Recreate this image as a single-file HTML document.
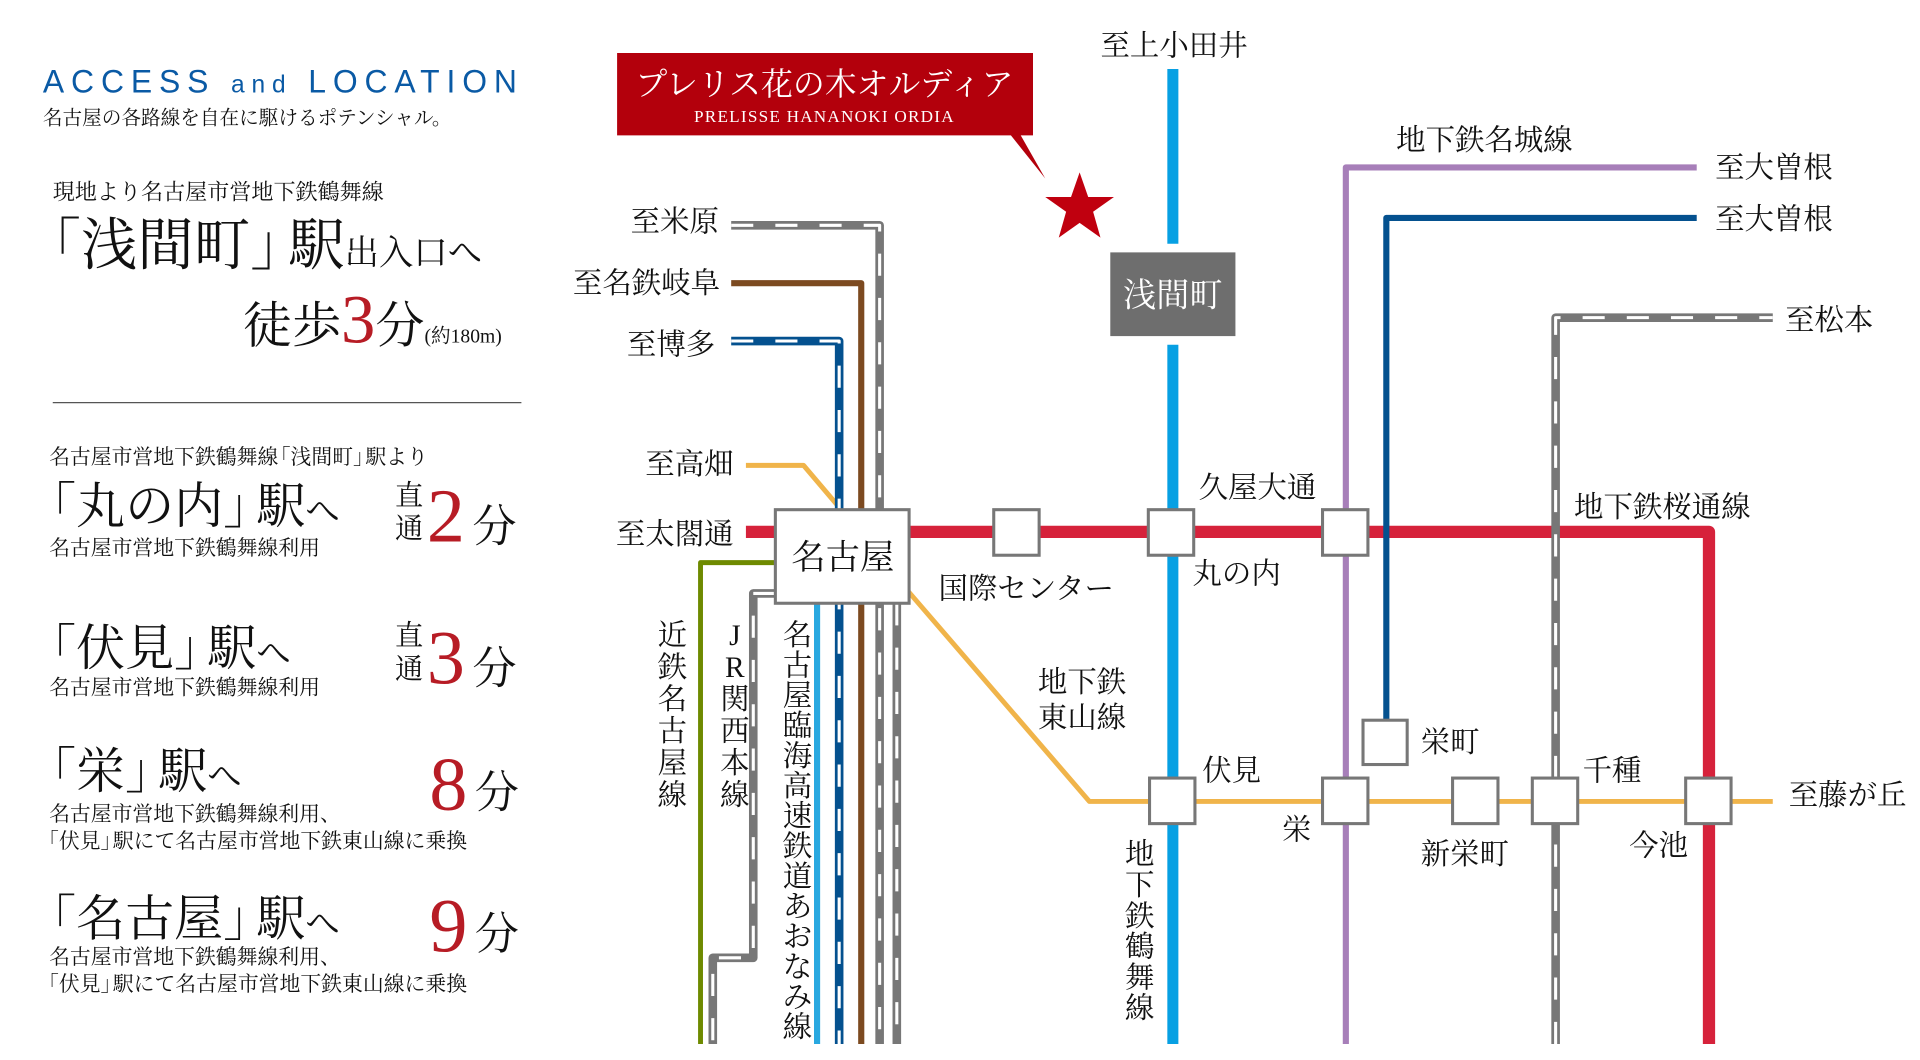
<!DOCTYPE html>
<html><head><meta charset="utf-8"><style>
html,body{margin:0;padding:0;background:#fff;}
svg{display:block;}
text{font-family:"Liberation Serif","Noto Serif CJK SC","Noto Serif CJK JP",serif;fill:#111;}
.s{font-family:"Liberation Sans","Noto Sans CJK JP",sans-serif;}
.r{fill:#b71c25;}
</style></head><body>
<svg width="1920" height="1060" viewBox="0 0 1565 861" preserveAspectRatio="none" xmlns="http://www.w3.org/2000/svg">
<rect width="1565" height="861" fill="#fff"/>
<!-- LEFT PANEL -->
<text class="s" x="35" y="75" font-size="26" style="fill:#0a5aa5" letter-spacing="5.6">ACCESS <tspan font-size="20">and</tspan> LOCATION</text>
<text x="35" y="101" font-size="16">名古屋の各路線を自在に駆けるポテンシャル。</text>
<text x="43" y="162" font-size="18">現地より名古屋市営地下鉄鶴舞線</text>
<text x="20" y="215" font-size="46">「浅間町」<tspan dx="-15">駅</tspan><tspan font-size="28">出入口へ</tspan></text>
<text x="198" y="278" font-size="40">徒歩<tspan class="r" font-size="56">3</tspan>分<tspan font-size="16">(約180m)</tspan></text>
<line x1="43" y1="327" x2="425" y2="327" stroke="#555" stroke-width="1"/>
<text x="40" y="377" font-size="17">名古屋市営地下鉄鶴舞線<tspan dx="-7">「</tspan>浅間町」<tspan dx="-7">駅より</tspan></text>

<text x="22" y="425" font-size="40">「丸の内」<tspan dx="-13">駅</tspan><tspan font-size="28">へ</tspan></text>
<text x="40" y="451" font-size="17">名古屋市営地下鉄鶴舞線利用</text>
<text x="322" y="410" font-size="23">直</text><text x="322" y="437" font-size="23">通</text>
<text class="r" x="348" y="440" font-size="62">2</text><text x="385" y="440" font-size="36">分</text>

<text x="22" y="540" font-size="40">「伏見」<tspan dx="-13">駅</tspan><tspan font-size="28">へ</tspan></text>
<text x="40" y="564" font-size="17">名古屋市営地下鉄鶴舞線利用</text>
<text x="322" y="524" font-size="23">直</text><text x="322" y="551" font-size="23">通</text>
<text class="r" x="348" y="555" font-size="62">3</text><text x="385" y="555" font-size="36">分</text>

<text x="22" y="640" font-size="40">「栄」<tspan dx="-13">駅</tspan><tspan font-size="28">へ</tspan></text>
<text x="40" y="667" font-size="17">名古屋市営地下鉄鶴舞線利用、</text>
<text x="31" y="689" font-size="17">「伏見」<tspan dx="-7">駅にて名古屋市営地下鉄東山線に乗換</tspan></text>
<text class="r" x="350" y="658" font-size="62">8</text><text x="387" y="656" font-size="36">分</text>

<text x="22" y="760" font-size="40">「名古屋」<tspan dx="-13">駅</tspan><tspan font-size="28">へ</tspan></text>
<text x="40" y="783" font-size="17">名古屋市営地下鉄鶴舞線利用、</text>
<text x="31" y="805" font-size="17">「伏見」<tspan dx="-7">駅にて名古屋市営地下鉄東山線に乗換</tspan></text>
<text class="r" x="350" y="773" font-size="62">9</text><text x="387" y="771" font-size="36">分</text>

<!-- MAP LINES -->
<g fill="none" stroke-linejoin="round">
<path d="M608 432 H1393 V848" stroke="#d6223b" stroke-width="10"/>
<line x1="956" y1="56" x2="956" y2="198" stroke="#07a0e3" stroke-width="9"/>
<line x1="956" y1="280" x2="956" y2="848" stroke="#07a0e3" stroke-width="9"/>
<path d="M740 480 L888 651 H1445" stroke="#f0b44a" stroke-width="4"/>
<path d="M608 378 H655 L684 412" stroke="#f0b44a" stroke-width="4"/>
<path d="M1097 848 V136 H1383" stroke="#a77fb9" stroke-width="5"/>
<path d="M1130 590 V177 H1383" stroke="#04518f" stroke-width="5"/>
<path d="M1268 848 V258 H1445" stroke="#777" stroke-width="7"/>
<path d="M1268 848 V258 H1445" stroke="#fff" stroke-width="2.5" stroke-dasharray="18 18"/>
<path d="M596 183 H717 V848" stroke="#777" stroke-width="7"/>
<path d="M596 183 H717 V848" stroke="#fff" stroke-width="2.5" stroke-dasharray="18 18"/>
<path d="M596 230 H702 V848" stroke="#7c4a20" stroke-width="5"/>
<path d="M596 277 H684 V848" stroke="#04518f" stroke-width="7"/>
<path d="M596 277 H684 V848" stroke="#fff" stroke-width="2.5" stroke-dasharray="18 18"/>
<line x1="666" y1="490" x2="666" y2="848" stroke="#29a8e0" stroke-width="5"/>
<line x1="731" y1="490" x2="731" y2="848" stroke="#777" stroke-width="7"/>
<line x1="731" y1="490" x2="731" y2="848" stroke="#fff" stroke-width="2.5" stroke-dasharray="18 18"/>
<path d="M632 457 H571 V848" stroke="#6e8a00" stroke-width="4"/>
<path d="M632 482 H614 V778 H581 V848" stroke="#777" stroke-width="7"/>
<path d="M632 482 H614 V778 H581 V848" stroke="#fff" stroke-width="2.5" stroke-dasharray="18 18"/>
</g>

<g fill="#fff" stroke="#777" stroke-width="2.5">
<rect x="632" y="414" width="109" height="76"/>
<rect x="810" y="414" width="37" height="37"/>
<rect x="936" y="414" width="37" height="37"/>
<rect x="1078" y="414" width="37" height="37"/>
<rect x="937" y="632" width="37" height="37"/>
<rect x="1078" y="632" width="37" height="37"/>
<rect x="1184" y="632" width="37" height="37"/>
<rect x="1249" y="632" width="37" height="37"/>
<rect x="1374" y="632" width="37" height="37"/>
<rect x="1111" y="585" width="36" height="36"/>
</g>
<rect x="905" y="205" width="102" height="68" fill="#6e6e6e"/>
<text x="956" y="249" font-size="27" text-anchor="middle" style="fill:#fff">浅間町</text>

<path d="M503 43 H842 V110 H832 L852 145 L824 110 H503 Z" fill="#b3000c"/>
<polygon points="880,140 887,160 908,160 891,172 897,193 880,181 863,193 869,172 852,160 873,160" fill="#c0000f"/>
<text x="672" y="77" font-size="26" text-anchor="middle" style="fill:#fff">プレリス花の木オルディア</text>
<text x="672" y="99" font-size="14" text-anchor="middle" letter-spacing="1" style="fill:#fff">PRELISSE HANANOKI ORDIA</text>

<g font-size="24">
<text x="897" y="45">至上小田井</text>
<text x="514" y="188">至米原</text>
<text x="467" y="238">至名鉄岐阜</text>
<text x="511" y="288">至博多</text>
<text x="526" y="385">至高畑</text>
<text x="502" y="442">至太閤通</text>
<text x="645" y="462" font-size="28">名古屋</text>
<text x="765" y="486">国際センター</text>
<text x="977" y="404">久屋大通</text>
<text x="972" y="474">丸の内</text>
<text x="1138" y="122">地下鉄名城線</text>
<text x="1398" y="144">至大曽根</text>
<text x="1398" y="186">至大曽根</text>
<text x="1455" y="268">至松本</text>
<text x="1283" y="420">地下鉄桜通線</text>
<text x="846" y="562">地下鉄</text>
<text x="846" y="591">東山線</text>
<text x="980" y="634">伏見</text>
<text x="1045" y="682">栄</text>
<text x="1158" y="611">栄町</text>
<text x="1158" y="702">新栄町</text>
<text x="1290" y="634">千種</text>
<text x="1328" y="695">今池</text>
<text x="1458" y="654">至藤が丘</text>
</g>
<g font-size="24" text-anchor="middle">
<text x="548" y="524">近</text><text x="548" y="550">鉄</text><text x="548" y="576">名</text><text x="548" y="602">古</text><text x="548" y="628">屋</text><text x="548" y="654">線</text>
<text x="599" y="524">J</text><text x="599" y="550">R</text><text x="599" y="576">関</text><text x="599" y="602">西</text><text x="599" y="628">本</text><text x="599" y="654">線</text>
<text x="650" y="524">名</text><text x="650" y="548.5">古</text><text x="650" y="573">屋</text><text x="650" y="597.5">臨</text><text x="650" y="622">海</text><text x="650" y="646.5">高</text><text x="650" y="671">速</text><text x="650" y="695.5">鉄</text><text x="650" y="720">道</text><text x="650" y="744.5">あ</text><text x="650" y="769">お</text><text x="650" y="793.5">な</text><text x="650" y="818">み</text><text x="650" y="842.5">線</text>
<text x="929" y="702">地</text><text x="929" y="727">下</text><text x="929" y="752">鉄</text><text x="929" y="777">鶴</text><text x="929" y="802">舞</text><text x="929" y="827">線</text>
</g>
</svg>
</body></html>
